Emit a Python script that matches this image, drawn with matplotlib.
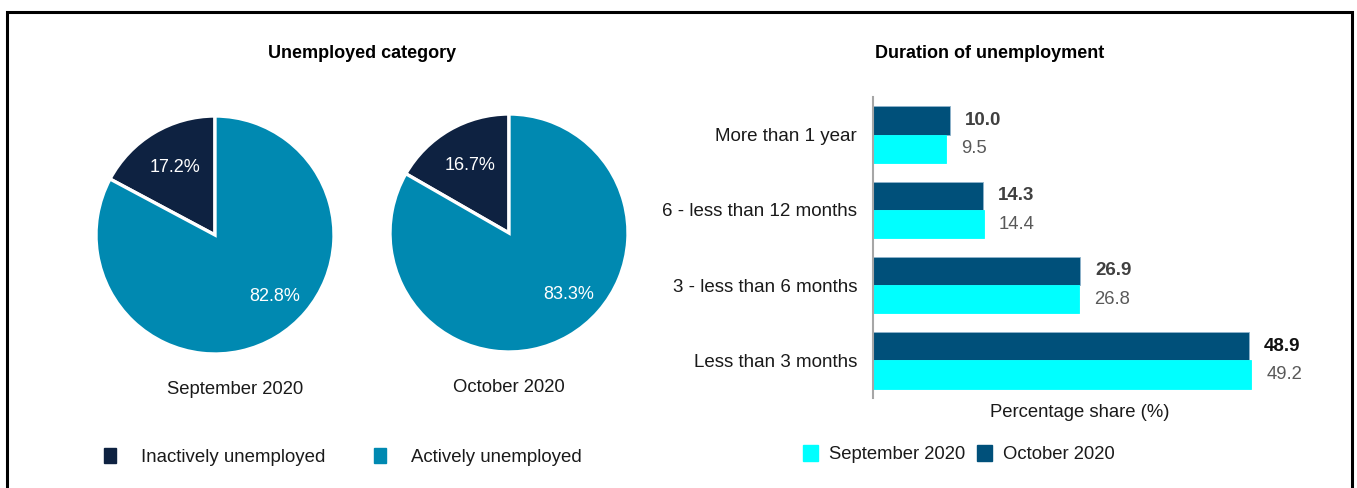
import numpy as np
import matplotlib
matplotlib.use('Agg')
import matplotlib.pyplot as plt
from matplotlib.patches import Rectangle, Patch

plt.rcParams['font.family'] = ['Liberation Sans', 'DejaVu Sans']

# data
months = ['September 2020', 'October 2020']
categories = ['Inactively unemployed', 'Actively unemployed']
inactive = [17.2, 16.7]
active = [82.8, 83.3]

durations = ['More than 1 year', '6 - less than 12 months',
             '3 - less than 6 months', 'Less than 3 months']
sep_share = [9.5, 14.4, 26.8, 49.2]
oct_share = [10.0, 14.3, 26.9, 48.9]

PIE_COLORS = ['#0e2241', '#0089b1']
SEP_COLOR = '#00ffff'
OCT_COLOR = '#00507a'
TXT = '#1a1a1a'

W, H = 1357, 488
fig = plt.figure(figsize=(W / 100, H / 100), dpi=100)


def box(x0, y0, x1, y1):
    # pixel box (top-left origin) -> figure fraction rect
    return [x0 / W, 1 - y1 / H, (x1 - x0) / W, (y1 - y0) / H]


# outer frame
fig.patches.append(Rectangle((7 / W, -0.02), (1352 - 7) / W, 1.02 - 12 / H,
                             transform=fig.transFigure, fill=False,
                             lw=2.2, ec='black'))

# ---- pies ----
pie_centers = [(215, 235), (509, 233)]
R = 119
for i, (cx, cy) in enumerate(pie_centers):
    ax = fig.add_axes(box(cx - R, cy - R, cx + R, cy + R))
    vals = [inactive[i], active[i]]
    wedges, _ = ax.pie(vals, colors=PIE_COLORS, startangle=90, radius=1,
                       wedgeprops=dict(edgecolor='white', linewidth=2.4))
    ax.set_xlim(-1, 1)
    ax.set_ylim(-1, 1)
    ax.set_aspect('equal')
    ax.axis('off')
    # dark slice label at mid angle
    w = wedges[0]
    mid = np.deg2rad((w.theta1 + w.theta2) / 2)
    ax.text(0.66 * np.cos(mid), 0.66 * np.sin(mid), f"{vals[0]:.1f}%",
            color='white', fontsize=13, ha='center', va='center')
    ang = np.deg2rad(-46)
    ax.text(0.72 * np.cos(ang), 0.72 * np.sin(ang), f"{vals[1]:.1f}%",
            color='white', fontsize=13, ha='center', va='center')

fig.text(235 / W, 1 - 389 / H, months[0], fontsize=13.3, color=TXT,
         ha='center', va='center')
fig.text(509 / W, 1 - 388 / H, months[1], fontsize=13.3, color=TXT,
         ha='center', va='center')

fig.text(362 / W, 1 - 53 / H, 'Unemployed category', fontsize=13,
         fontweight='bold', ha='center', va='center')

pie_handles = [Patch(color=c, label=l) for c, l in zip(PIE_COLORS, categories)]
fig.legend(handles=pie_handles, loc='center left',
           bbox_to_anchor=(104 / W, 1 - 457 / H), ncol=2, frameon=False,
           fontsize=13.4, handlelength=0.65, handleheight=0.85,
           handletextpad=1.35, columnspacing=2.6, borderpad=0,
           borderaxespad=0, labelcolor=TXT)

# ---- bars ----
ax = fig.add_axes(box(873, 97, 1287, 398))
y = np.arange(len(durations))
h = 0.377
ax.barh(y - h / 2, oct_share, height=h, color=OCT_COLOR,
        edgecolor='#8fb4cc', linewidth=0.6, label=months[1])
ax.barh(y + h / 2, sep_share, height=h, color=SEP_COLOR,
        edgecolor=SEP_COLOR, linewidth=0.6, label=months[0])
for yi, v in zip(y, oct_share):
    ax.annotate(f"{v:.1f}", (v, yi - h / 2), xytext=(11, 0),
                textcoords='offset points', va='center', ha='left',
                fontsize=13.5, fontweight='bold',
                color='#111111' if v == max(oct_share) else '#404040',
                annotation_clip=False)
for yi, v in zip(y, sep_share):
    ax.annotate(f"{v:.1f}", (v, yi + h / 2), xytext=(11, 0),
                textcoords='offset points', va='center', ha='left',
                fontsize=13.3, color='#595959', annotation_clip=False)

ax.set_xlim(0, 53.9)
ax.set_ylim(3.5, -0.5)
ax.set_yticks(y)
ax.set_yticklabels(durations, fontsize=13.5, color=TXT)
ax.tick_params(axis='y', length=0, pad=11.5)
ax.set_xticks([])
for s in ['top', 'right', 'bottom']:
    ax.spines[s].set_visible(False)
ax.spines['left'].set_color('#a6a6a6')
ax.spines['left'].set_linewidth(1.5)
ax.set_xlabel('Percentage share (%)', fontsize=13.3, color=TXT,
              labelpad=4.5)

fig.text(990 / W, 1 - 53 / H, 'Duration of unemployment', fontsize=13,
         fontweight='bold', ha='center', va='center')

bar_handles = [Patch(color=SEP_COLOR, label=months[0]),
               Patch(color=OCT_COLOR, label=months[1])]
fig.legend(handles=bar_handles, loc='center left',
           bbox_to_anchor=(803 / W, 1 - 454 / H), ncol=2, frameon=False,
           fontsize=13.3, handlelength=0.8, handleheight=0.95,
           handletextpad=0.6, columnspacing=0.65, borderpad=0,
           borderaxespad=0, labelcolor=TXT)

fig.savefig('out.png', dpi=100)
